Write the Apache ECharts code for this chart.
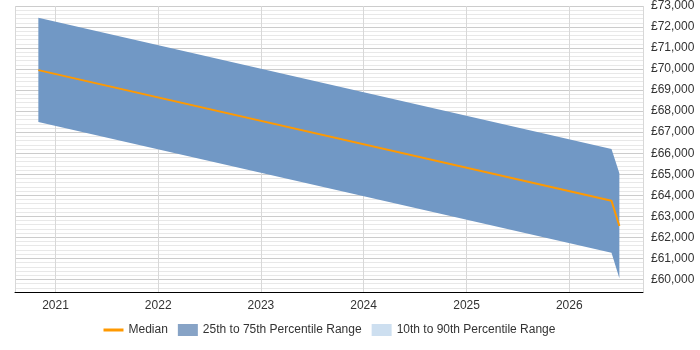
<!DOCTYPE html>
<html>
<head>
<meta charset="utf-8">
<script src="https://cdn.jsdelivr.net/npm/echarts@6/dist/echarts.min.js"></script>
<style>
  html, body { margin: 0; padding: 0; background: #fff; }
  #chart { width: 700px; height: 350px; }
</style>
</head>
<body>
<div id="chart"></div>
<script>
// data
var dates = ['2020-11-01', '2026-05-31', '2026-06-28'];
var median = [69950, 63740, 62540];
var p25 = [67480, 61270, 60050];
var p75 = [72440, 66200, 65050];
var p10 = [];
var p90 = [];

var seriesNames = ['Median', '25th to 75th Percentile Range', '10th to 90th Percentile Range'];

function pairs(vals) {
    return dates.map(function (d, i) { return [d, vals[i]]; });
}
var bandBase = pairs(p25);
var bandSpan = dates.map(function (d, i) { return [d, p75[i] - p25[i]]; });

var chart = echarts.init(document.getElementById('chart'));

var option = {
    animation: false,
    grid: { left: 15, right: 57, top: 6, bottom: 58, containLabel: false },
    legend: {
        bottom: 9,
        left: 97,
        itemWidth: 20,
        itemHeight: 12,
        itemGap: 10,
        textStyle: { fontFamily: 'Liberation Sans, Arial', fontSize: 12, color: '#333' },
        data: [
            { name: seriesNames[0], itemStyle: { opacity: 0 }, lineStyle: { width: 3 } },
            { name: seriesNames[1], icon: 'rect' },
            { name: seriesNames[2], icon: 'rect' }
        ]
    },
    xAxis: {
        type: 'time',
        min: '2020-08-10',
        max: '2026-09-20',
        minInterval: 365 * 24 * 3600 * 1000,
        maxInterval: 366 * 24 * 3600 * 1000,
        axisLine: { lineStyle: { color: '#000', width: 1 } },
        axisTick: { show: false },
        axisLabel: {
            formatter: '{yyyy}',
            showMinLabel: false,
            showMaxLabel: false,
            fontFamily: 'Liberation Sans, Arial',
            fontSize: 12,
            color: '#333',
            margin: 8
        },
        splitLine: { show: true, lineStyle: { color: '#d8d8d8', width: 1 } }
    },
    yAxis: {
        type: 'value',
        position: 'right',
        min: 59400,
        max: 73000,
        interval: 200,
        axisLine: { show: false },
        axisTick: { show: false },
        axisLabel: {
            margin: 8,
            fontFamily: 'Liberation Sans, Arial',
            fontSize: 12,
            color: '#333',
            formatter: function (v) {
                if (v % 1000 !== 0) return '';
                return '£' + v.toLocaleString('en-GB');
            }
        },
        splitLine: {
            lineStyle: { color: ['#e8e8e8', '#e8e8e8', '#e8e8e8', '#cccccc', '#e8e8e8'], width: 1 }
        }
    },
    series: [
        {
            name: 'base',
            type: 'line',
            stack: 'band',
            data: bandBase,
            symbol: 'none',
            lineStyle: { width: 0, opacity: 0 },
            silent: true
        },
        {
            name: seriesNames[1],
            type: 'line',
            stack: 'band',
            data: bandSpan,
            symbol: 'none',
            itemStyle: { color: '#87a3c6' },
            lineStyle: { width: 0, opacity: 0 },
            areaStyle: { color: '#7198c5', opacity: 1 }
        },
        {
            name: seriesNames[2],
            type: 'line',
            data: p10,
            symbol: 'none',
            itemStyle: { color: '#cddff0' }
        },
        {
            name: seriesNames[0],
            type: 'line',
            data: pairs(median),
            symbol: 'none',
            itemStyle: { color: '#ff9900' },
            lineStyle: { color: '#ff9900', width: 2 },
            z: 5
        }
    ]
};

chart.setOption(option);
</script>
</body>
</html>
